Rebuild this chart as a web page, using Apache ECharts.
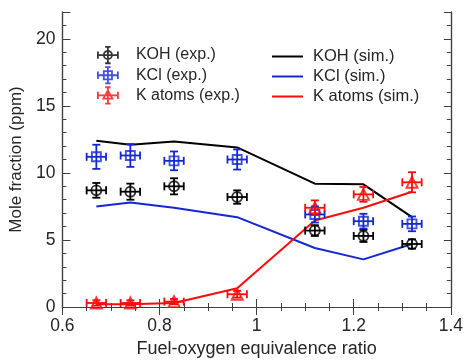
<!DOCTYPE html>
<html>
<head>
<meta charset="utf-8">
<script src="https://cdn.jsdelivr.net/npm/echarts@6/dist/echarts.min.js"></script>
<style>
  html, body { margin: 0; padding: 0; background: #fff; }
  #chart { width: 466px; height: 363px; }
</style>
</head>
<body>
<div id="chart"></div>
<script>
// equivalence ratio of each flame
var phi = [0.67, 0.74, 0.83, 0.96, 1.12, 1.22, 1.32];
var phiErr = [0.02, 0.02, 0.02, 0.02, 0.02, 0.02, 0.02];

// measurements (ppm) and their error bars
var kohExp = [8.7, 8.6, 9.0, 8.2, 5.7, 5.3, 4.7];
var kohExpErr = [0.55, 0.6, 0.6, 0.5, 0.4, 0.45, 0.35];
var kclExp = [11.2, 11.3, 10.9, 11.0, 6.9, 6.4, 6.2];
var kclExpErr = [0.9, 0.85, 0.7, 0.75, 0.6, 0.55, 0.55];
var kExp = [0.3, 0.3, 0.4, 0.95, 7.4, 8.4, 9.3];
var kExpErr = [0.2, 0.2, 0.2, 0.25, 0.55, 0.55, 0.75];

// simulations (ppm)
var kohSim = [12.4, 12.1, 12.35, 11.9, 9.2, 9.15, 6.7];
var kclSim = [7.5, 7.8, 7.4, 6.7, 4.4, 3.55, 4.7];
var kSim = [0.2, 0.2, 0.3, 1.4, 6.45, 7.4, 8.6];

var yLabels = [0, 5, 10, 15, 20];

var BLACK = '#000000', BLUE = '#1428d2', RED = '#ff0a0a';
var FONT = 'Liberation Sans, Arial, sans-serif';
var AXIS = '#404040';
var TEXT = '#262626';

function pairs(ys) {
    return phi.map(function (p, i) { return [p, ys[i]]; });
}
function errData(ys, errs) {
    return phi.map(function (p, i) { return [p, ys[i], phiErr[i], errs[i]]; });
}

function errRender(color) {
    return function (params, api) {
        var x = api.value(0), y = api.value(1), ex = api.value(2), ey = api.value(3);
        var l = api.coord([x - ex, y]), r = api.coord([x + ex, y]);
        var t = api.coord([x, y + ey]), b = api.coord([x, y - ey]);
        var c = 4;
        var st = { stroke: color, lineWidth: 1.8 };
        function ln(x1, y1, x2, y2) {
            return { type: 'line', shape: { x1: x1, y1: y1, x2: x2, y2: y2 }, style: st };
        }
        return {
            type: 'group',
            children: [
                ln(l[0], l[1], r[0], r[1]),
                ln(l[0], l[1] - c, l[0], l[1] + c),
                ln(r[0], r[1] - c, r[0], r[1] + c),
                ln(t[0], t[1], b[0], b[1]),
                ln(t[0] - c, t[1], t[0] + c, t[1]),
                ln(b[0] - c, b[1], b[0] + c, b[1])
            ]
        };
    };
}

// legend icons: marker with error bars
var bars = 'M1 10 L23 10 M1 6 L1 14 M23 6 L23 14 M12 1 L12 19 M9 1 L15 1 M9 19 L15 19 ';
var iconCircle = 'path://' + bars + 'M16.5 10 A4.5 4.5 0 1 1 7.5 10 A4.5 4.5 0 1 1 16.5 10 Z';
var iconSquare = 'path://' + bars + 'M7.5 5.5 L16.5 5.5 L16.5 14.5 L7.5 14.5 Z';
var iconTri = 'path://' + bars + 'M12 4.5 L17 13.5 L7 13.5 Z';

function expSeries(name, ys, symbol, size, color) {
    return {
        name: name,
        type: 'scatter',
        data: pairs(ys),
        symbol: symbol,
        symbolSize: size,
        itemStyle: { color: 'transparent', borderColor: color, borderWidth: 1.9 },
        z: 4
    };
}
function errSeries(ys, errs, color) {
    return {
        type: 'custom',
        data: errData(ys, errs),
        encode: { x: 0, y: 1 },
        renderItem: errRender(color),
        z: 5,
        silent: true
    };
}
function simSeries(name, ys, color) {
    return {
        name: name,
        type: 'line',
        data: pairs(ys),
        symbol: 'none',
        lineStyle: { color: color, width: 2 },
        itemStyle: { color: color },
        z: 3
    };
}

var xCommon = {
    type: 'value', min: 0.6, max: 1.4, interval: 0.2,
    axisLine: { show: true, lineStyle: { color: AXIS, width: 1.2 } },
    axisTick: { inside: true, length: 8, lineStyle: { color: AXIS } },
    minorTick: { show: true, splitNumber: 4, length: 4, lineStyle: { color: AXIS } },
    splitLine: { show: false }
};
function yAxisDef(pos, interval, len, labels, extra) {
    var a = {
        type: 'value', min: 0, max: 22, interval: interval, position: pos,
        axisLine: { show: true, onZero: false, lineStyle: { color: AXIS, width: 1.2 } },
        axisTick: { inside: true, length: len, lineStyle: { color: AXIS } },
        axisLabel: { show: false },
        splitLine: { show: false }
    };
    if (labels) {
        a.axisLabel = {
            show: true, margin: 7, fontSize: 17.5, color: TEXT, fontFamily: FONT,
            formatter: function (v) { return yLabels.indexOf(v) >= 0 ? String(v) : ''; }
        };
    }
    return Object.assign(a, extra || {});
}

var chart = echarts.init(document.getElementById('chart'));
chart.setOption({
    animation: false,
    backgroundColor: '#fff',
    textStyle: { fontFamily: FONT },
    grid: { left: 60, right: 13, top: 12, bottom: 52 },
    xAxis: [
        Object.assign({}, xCommon, {
            position: 'bottom',
            name: 'Fuel-oxygen equivalence ratio',
            nameLocation: 'middle',
            nameGap: 33,
            nameTextStyle: { fontSize: 18, color: TEXT, fontFamily: FONT },
            axisLabel: {
                margin: 10, fontSize: 17.5, color: TEXT, fontFamily: FONT,
                formatter: function (v) { return String(Math.round(v * 10) / 10); }
            }
        }),
        Object.assign({}, xCommon, { position: 'top', axisLabel: { show: false } })
    ],
    yAxis: [
        yAxisDef('left', 5, 8, true, {
            name: 'Mole fraction (ppm)',
            nameLocation: 'middle',
            nameGap: 31,
            nameTextStyle: { fontSize: 17, color: TEXT, fontFamily: FONT }
        }),
        yAxisDef('left', 1, 4, false),
        yAxisDef('right', 5, 7, false),
        yAxisDef('right', 1, 4, false)
    ],
    legend: [
        {
            orient: 'vertical', left: 92, top: 41,
            itemWidth: 20, itemHeight: 17, itemGap: 2,
            textStyle: { fontSize: 16, color: TEXT, fontFamily: FONT, padding: [0, 0, 0, 13] },
            data: [
                { name: 'KOH (exp.)', icon: iconCircle, itemStyle: { color: 'transparent', borderColor: BLACK, borderWidth: 1.8 } },
                { name: 'KCl (exp.)', icon: iconSquare, itemStyle: { color: 'transparent', borderColor: BLUE, borderWidth: 1.8 } },
                { name: 'K atoms (exp.)', icon: iconTri, itemStyle: { color: 'transparent', borderColor: RED, borderWidth: 1.8 } }
            ]
        },
        {
            orient: 'vertical', left: 267, top: 43,
            itemWidth: 31, itemHeight: 2, itemGap: 3,
            textStyle: { fontSize: 16.5, color: TEXT, fontFamily: FONT, padding: [0, 0, 0, 5] },
            data: [
                { name: 'KOH (sim.)', icon: 'rect', itemStyle: { color: BLACK, borderWidth: 0 } },
                { name: 'KCl (sim.)', icon: 'rect', itemStyle: { color: BLUE, borderWidth: 0 } },
                { name: 'K atoms (sim.)', icon: 'rect', itemStyle: { color: RED, borderWidth: 0 } }
            ]
        }
    ],
    series: [
        simSeries('KOH (sim.)', kohSim, BLACK),
        simSeries('KCl (sim.)', kclSim, BLUE),
        simSeries('K atoms (sim.)', kSim, RED),
        expSeries('KOH (exp.)', kohExp, 'circle', 10, BLACK),
        expSeries('KCl (exp.)', kclExp, 'rect', 9, BLUE),
        expSeries('K atoms (exp.)', kExp, 'triangle', 11, RED),
        errSeries(kohExp, kohExpErr, BLACK),
        errSeries(kclExp, kclExpErr, BLUE),
        errSeries(kExp, kExpErr, RED)
    ]
});
</script>
</body>
</html>
